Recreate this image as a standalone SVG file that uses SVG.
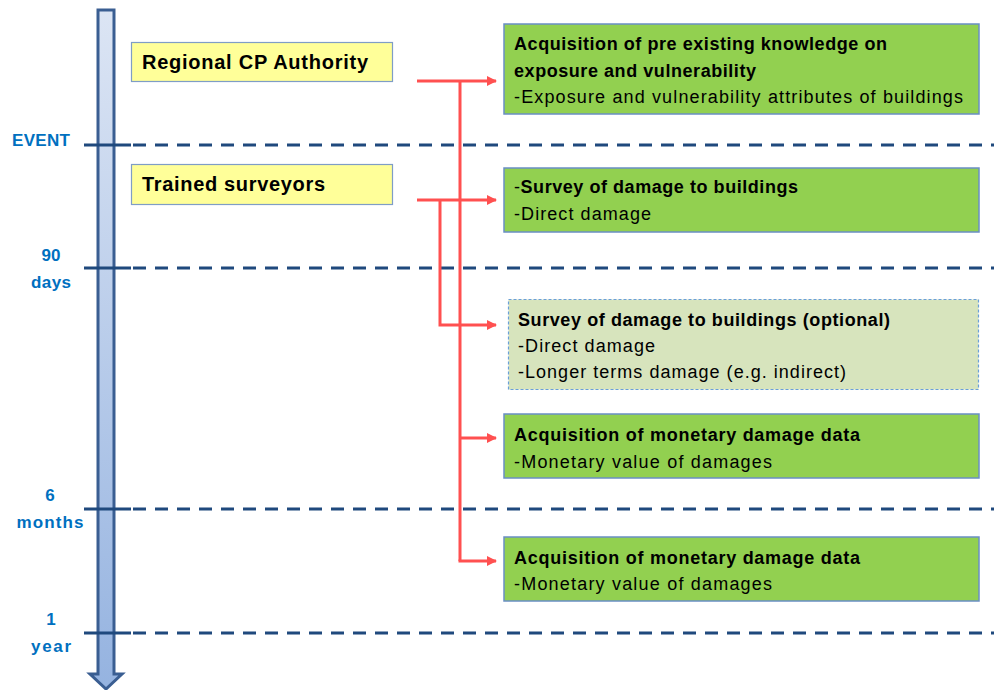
<svg xmlns="http://www.w3.org/2000/svg" width="994" height="690" viewBox="0 0 994 690">
<defs>
<linearGradient id="bar" x1="0" y1="0" x2="0" y2="1">
<stop offset="0" stop-color="#DCE5F4"/><stop offset="1" stop-color="#95B3E0"/>
</linearGradient>
<marker id="ah" markerWidth="10" markerHeight="10" refX="9" refY="5" orient="auto" markerUnits="userSpaceOnUse">
<path d="M0,0 L10,5 L0,10 Z" fill="#FF5050"/>
</marker>
<style>
.tick{stroke:#1F497D;stroke-width:3;fill:none}
.dash{stroke:#1F497D;stroke-width:3;stroke-dasharray:13 9;fill:none}
.lbl{font-family:"Liberation Sans",Arial,sans-serif;font-weight:bold;font-size:17px;fill:#0070C0;text-anchor:middle}
.yb{fill:#FFFF99;stroke:#7F9DC6;stroke-width:1.2}
.gb{fill:#92D050;stroke:#6A8FC3;stroke-width:1.5}
.ob{fill:#D7E4BD;stroke:#6A9FD8;stroke-width:1.2;stroke-dasharray:3 2}
.t{font-family:"Liberation Sans",Arial,sans-serif;font-size:18px;fill:#000}
.b{font-weight:bold}
.yt{font-family:"Liberation Sans",Arial,sans-serif;font-size:20px;font-weight:bold;fill:#000}
.con{stroke:#FF5050;stroke-width:3;fill:none}
</style>
</defs>
<g id="timeline">
<path d="M98,10 H114 V674 H122 L106,689 L90,674 H98 Z" fill="url(#bar)" stroke="#3A5E92" stroke-width="3" stroke-linejoin="miter"/>
</g>
<g id="ticks">
<line class="tick" x1="84" y1="145" x2="131" y2="145"/><line class="dash" x1="133" y1="145" x2="994" y2="145"/>
<line class="tick" x1="84" y1="268" x2="131" y2="268"/><line class="dash" x1="133" y1="268" x2="994" y2="268"/>
<line class="tick" x1="84" y1="509" x2="131" y2="509"/><line class="dash" x1="133" y1="509" x2="994" y2="509"/>
<line class="tick" x1="84" y1="633" x2="131" y2="633"/><line class="dash" x1="133" y1="633" x2="994" y2="633"/>
</g>
<g id="labels">
<text class="lbl" x="41" y="146" textLength="58" lengthAdjust="spacing">EVENT</text>
<text class="lbl" x="51" y="261">90</text>
<text class="lbl" x="51" y="288" textLength="40" lengthAdjust="spacing">days</text>
<text class="lbl" x="50" y="501">6</text>
<text class="lbl" x="50" y="528" textLength="67" lengthAdjust="spacing">months</text>
<text class="lbl" x="51" y="625">1</text>
<text class="lbl" x="51" y="652" textLength="40" lengthAdjust="spacing">year</text>
</g>
<g id="connectors">
<polyline class="con" points="417,81 460,81"/>
<line class="con" x1="460" y1="81" x2="496" y2="81" marker-end="url(#ah)"/>
<line class="con" x1="460" y1="81" x2="460" y2="561"/>
<line class="con" x1="460" y1="438" x2="496" y2="438" marker-end="url(#ah)"/>
<line class="con" x1="458.5" y1="561" x2="496" y2="561" marker-end="url(#ah)"/>
<line class="con" x1="417" y1="200" x2="496" y2="200" marker-end="url(#ah)"/>
<polyline class="con" points="440,200 440,325 496,325" marker-end="url(#ah)"/>
</g>
<g id="regional">
<rect class="yb" x="131.5" y="42.5" width="261" height="39"/>
<text class="yt" x="142" y="69" textLength="226" lengthAdjust="spacing">Regional CP Authority</text>
</g>
<g id="surveyors">
<rect class="yb" x="131.5" y="164.5" width="261" height="40"/>
<text class="yt" x="142" y="191" textLength="183" lengthAdjust="spacing">Trained surveyors</text>
</g>
<g id="box1">
<rect class="gb" x="504" y="24" width="475" height="90"/>
<text class="t b" x="514" y="50" textLength="373" lengthAdjust="spacing">Acquisition of pre existing knowledge on</text>
<text class="t b" x="514" y="77" textLength="242" lengthAdjust="spacing">exposure and vulnerability</text>
<text class="t" x="514" y="103" textLength="449" lengthAdjust="spacing">-Exposure and vulnerability attributes of buildings</text>
</g>
<g id="box2">
<rect class="gb" x="504" y="168" width="475" height="64"/>
<text class="t" x="514" y="193" textLength="284" lengthAdjust="spacing">-<tspan class="b">Survey of damage to buildings</tspan></text>
<text class="t" x="514" y="220" textLength="137" lengthAdjust="spacing">-Direct damage</text>
</g>
<g id="box3">
<rect class="ob" x="508.5" y="299.5" width="470" height="90"/>
<text class="t b" x="518" y="326" textLength="372" lengthAdjust="spacing">Survey of damage to buildings (optional)</text>
<text class="t" x="518" y="352" textLength="137" lengthAdjust="spacing">-Direct damage</text>
<text class="t" x="518" y="378" textLength="328" lengthAdjust="spacing">-Longer terms damage (e.g. indirect)</text>
</g>
<g id="box4">
<rect class="gb" x="504" y="414" width="475" height="64"/>
<text class="t b" x="514" y="441" textLength="346" lengthAdjust="spacing">Acquisition of monetary damage data</text>
<text class="t" x="514" y="468" textLength="258" lengthAdjust="spacing">-Monetary value of damages</text>
</g>
<g id="box5">
<rect class="gb" x="504" y="537" width="475" height="64"/>
<text class="t b" x="514" y="564" textLength="346" lengthAdjust="spacing">Acquisition of monetary damage data</text>
<text class="t" x="514" y="590" textLength="258" lengthAdjust="spacing">-Monetary value of damages</text>
</g>
</svg>
